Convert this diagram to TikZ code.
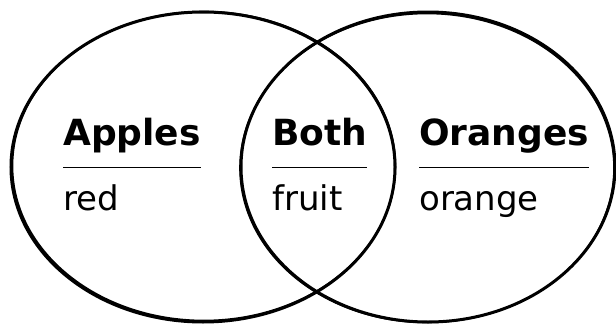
\documentclass[tikz,border=0pt]{standalone}
\usepackage{fontspec}
\setmainfont{DejaVu Sans}
\usepackage{tikz}
\usetikzlibrary{positioning}

\begin{document}
\begin{tikzpicture}[
  x=1pt, y=-1pt,
  ring/.style={draw=black, line width=3pt},
  sketch/.style={draw=black, line width=1.6pt},
  head/.style={anchor=base west, inner sep=0pt, font=\fontsize{36}{40}\selectfont\bfseries},
  note/.style={anchor=base west, inner sep=0pt, font=\fontsize{34}{38}\selectfont},
  rule/.style={line width=0.9pt}
]
\useasboundingbox (0,0) rectangle (616,324);

% --- the two sets ---
\draw[ring]   (203,167) ellipse [x radius=192, y radius=155];
\draw[sketch] (204,166) ellipse [x radius=191.5, y radius=154.5];
\draw[ring]   (428,167) ellipse [x radius=187, y radius=155];
\draw[sketch] (427,168) ellipse [x radius=187, y radius=154.5];

% --- Apples ---
\node[head] (apples) at (63,145) {Apples};
\node[note] (red) at (63,210) {red};
\draw[rule] ([yshift=-22pt]apples.base west) -- ([yshift=-22pt]apples.base east);

% --- Both ---
\node[head] (both) at (272,145) {Both};
\node[note] (fruit) at (272,210) {fruit};
\draw[rule] ([yshift=-22pt]both.base west) -- ([yshift=-22pt]both.base east);

% --- Oranges ---
\node[head] (oranges) at (419,145) {Oranges};
\node[note] (orange) at (419,210) {orange};
\draw[rule] ([yshift=-22pt]oranges.base west) -- ([yshift=-22pt]oranges.base east);

\end{tikzpicture}
\end{document}
